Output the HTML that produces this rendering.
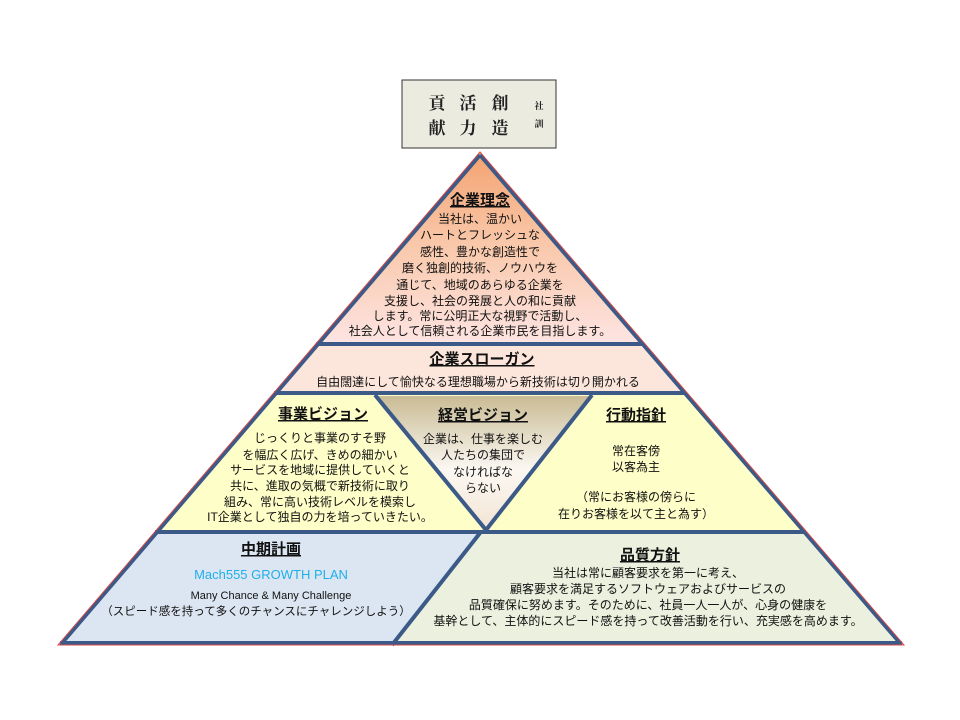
<!DOCTYPE html>
<html><head><meta charset="utf-8"><style>
body{margin:0;background:#fff;}
svg{display:block;font-family:"Liberation Sans","Noto Sans CJK JP",sans-serif;}
</style></head><body>
<svg width="960" height="720" viewBox="0 0 960 720" xmlns="http://www.w3.org/2000/svg">
<defs>
<linearGradient id="g1" x1="0" y1="0" x2="0" y2="1"><stop offset="0" stop-color="#f4a270"/><stop offset="0.5" stop-color="#f9c9ac"/><stop offset="1" stop-color="#fde4e2"/></linearGradient>
<linearGradient id="g2" x1="0" y1="0" x2="0" y2="1"><stop offset="0" stop-color="#c9bb94"/><stop offset="0.55" stop-color="#fbf8f2"/><stop offset="1" stop-color="#f3e4d4"/></linearGradient>
</defs>
<rect x="402" y="80" width="154" height="68" fill="#ecebe0" stroke="#333" stroke-width="1"/>
<g font-family="'Noto Serif CJK SC','Liberation Serif',serif" font-weight="bold" font-size="17" text-anchor="middle" fill="#222">
<text x="437" y="109">貢</text><text x="468" y="109">活</text><text x="500" y="109">創</text>
<text x="437" y="134">献</text><text x="468" y="134">力</text><text x="500" y="134">造</text>
<text x="539" y="109" font-size="9">社</text><text x="539" y="127" font-size="9">訓</text>
</g>
<polygon points="480,152 644,344 316,344" fill="url(#g1)"/>
<polygon points="316,344 644,344 686,393 274,393" fill="#fce6dc"/>
<polygon points="274,393 686,393 805,532 155,532" fill="#fefec8"/>
<polygon points="155,532 480,532 392,645 58,645" fill="#dce6f2"/>
<polygon points="480,532 805,532 904,645 392,645" fill="#ebf1de"/>
<polygon points="375,396 592,396 486,530" fill="url(#g2)"/>
<g stroke="#3b5a88" stroke-width="4" fill="none">
<line x1="316" y1="344" x2="644" y2="344"/>
<line x1="274" y1="393" x2="686" y2="393"/>
<line x1="155" y1="532" x2="805" y2="532"/>
<line x1="375" y1="395" x2="486" y2="530"/>
<line x1="592" y1="395" x2="486" y2="530"/>
<line x1="480" y1="533" x2="392" y2="645"/>
<line x1="480" y1="155" x2="62" y2="643"/>
<line x1="480" y1="155" x2="900" y2="643"/>
<line x1="60" y1="643" x2="902" y2="643"/>
</g>
<polygon points="480,152 904,645 58,645" fill="none" stroke="#d64848" stroke-width="1"/>
<g text-anchor="middle" fill="#111" font-size="12">
<text x="480" y="205" font-size="15" font-weight="bold" text-decoration="underline">企業理念</text>
<text x="480" y="223">当社は、温かい</text>
<text x="480" y="239">ハートとフレッシュな</text>
<text x="480" y="256">感性、豊かな創造性で</text>
<text x="480" y="272">磨く独創的技術、ノウハウを</text>
<text x="480" y="289">通じて、地域のあらゆる企業を</text>
<text x="480" y="305">支援し、社会の発展と人の和に貢献</text>
<text x="480" y="320">します。常に公明正大な視野で活動し、</text>
<text x="480" y="335">社会人として信頼される企業市民を目指します。</text>
<text x="482" y="364" font-size="15" font-weight="bold" text-decoration="underline">企業スローガン</text>
<text x="478" y="386">自由闊達にして愉快なる理想職場から新技術は切り開かれる</text>
<text x="323" y="419" font-size="15" font-weight="bold" text-decoration="underline">事業ビジョン</text>
<text x="320" y="442">じっくりと事業のすそ野</text>
<text x="320" y="459">を幅広く広げ、きめの細かい</text>
<text x="320" y="474">サービスを地域に提供していくと</text>
<text x="320" y="490">共に、進取の気概で新技術に取り</text>
<text x="320" y="506">組み、常に高い技術レベルを模索し</text>
<text x="320" y="521">IT企業として独自の力を培っていきたい。</text>
<text x="483" y="420" font-size="15" font-weight="bold" text-decoration="underline">経営ビジョン</text>
<text x="483" y="443">企業は、仕事を楽しむ</text>
<text x="483" y="459">人たちの集団で</text>
<text x="483" y="476">なければな</text>
<text x="483" y="492">らない</text>
<text x="636" y="420" font-size="15" font-weight="bold" text-decoration="underline">行動指針</text>
<text x="636" y="455">常在客傍</text>
<text x="636" y="471">以客為主</text>
<text x="636" y="501">（常にお客様の傍らに</text>
<text x="636" y="518">在りお客様を以て主と為す）</text>
<text x="271" y="554" font-size="15" font-weight="bold" text-decoration="underline">中期計画</text>
<text x="271" y="579" font-size="13" fill="#1fb0e8">Mach555  GROWTH PLAN</text>
<text x="271" y="599" font-size="11">Many Chance &amp; Many Challenge</text>
<text x="256" y="615" font-size="11.5">（スピード感を持って多くのチャンスにチャレンジしよう）</text>
<text x="650" y="560" font-size="15" font-weight="bold" text-decoration="underline">品質方針</text>
<text x="648" y="577">当社は常に顧客要求を第一に考え、</text>
<text x="648" y="593">顧客要求を満足するソフトウェアおよびサービスの</text>
<text x="648" y="609">品質確保に努めます。そのために、社員一人一人が、心身の健康を</text>
<text x="648" y="625">基幹として、主体的にスピード感を持って改善活動を行い、充実感を高めます。</text>
</g>
</svg>
</body></html>
